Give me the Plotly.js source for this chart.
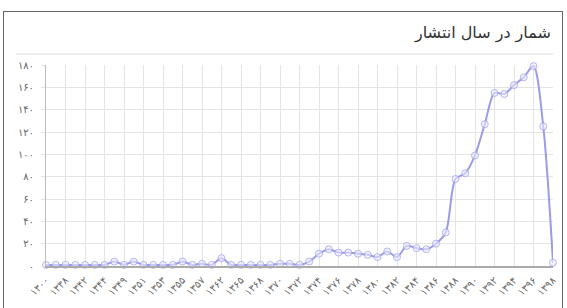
<!DOCTYPE html>
<html>
<head>
<meta charset="utf-8">
<script src="https://cdn.plot.ly/plotly-3.0.1.min.js"></script>
<style>
  html, body { margin: 0; padding: 0; background: #fff; }
  #wrap { position: relative; width: 567px; height: 308px; overflow: hidden; }
  #frame { position: absolute; left: 3px; top: 11px; width: 560px; height: 320px; border: 1px solid #666; box-sizing: border-box; }
  #chart { position: absolute; left: 0; top: 0; width: 567px; height: 308px; }
</style>
</head>
<body>
<div id="wrap">
  <div id="frame"></div>
  <div id="chart"></div>
</div>
<script>
// Years (Persian calendar) – one category per year in the data
const categories = [
  '۱۳۰۰','۱۳۳۵','۱۳۳۸','۱۳۴۰','۱۳۴۲','۱۳۴۳','۱۳۴۴','۱۳۴۷','۱۳۴۹','۱۳۵۰',
  '۱۳۵۱','۱۳۵۲','۱۳۵۳','۱۳۵۴','۱۳۵۵','۱۳۵۶','۱۳۵۷','۱۳۶۰','۱۳۶۲','۱۳۶۴',
  '۱۳۶۵','۱۳۶۶','۱۳۶۸','۱۳۶۹','۱۳۷۰','۱۳۷۱','۱۳۷۲','۱۳۷۳','۱۳۷۴','۱۳۷۵',
  '۱۳۷۶','۱۳۷۷','۱۳۷۸','۱۳۷۹','۱۳۸۰','۱۳۸۱','۱۳۸۲','۱۳۸۳','۱۳۸۴','۱۳۸۵',
  '۱۳۸۶','۱۳۸۷','۱۳۸۸','۱۳۸۹','۱۳۹۰','۱۳۹۱','۱۳۹۲','۱۳۹۳','۱۳۹۴','۱۳۹۵',
  '۱۳۹۶','۱۳۹۷','۱۳۹۸'
];
const counts = [
  1,1,1,1,1,1,1,4,1,4,
  1,1,1,1,4,1,2,1,7,1,
  1,1,1,1,2,2,1,4,11,15,
  12,12,11,10,8,13,8,18,16,15,
  20,30,78,83,99,127,155,154,162,169,
  179,125,3
];
const yTickVals = [0,20,40,60,80,100,120,140,160,180];
const yTickText = ['۰','۲۰','۴۰','۶۰','۸۰','۱۰۰','۱۲۰','۱۴۰','۱۶۰','۱۸۰'];
const titleText = 'شمار در سال انتشار';

const xTickVals = categories.filter((c, i) => i % 2 === 0);

const lineColor = 'rgb(155,155,235)';

const trace = {
  type: 'scatter',
  mode: 'lines+markers',
  x: categories,
  y: counts,
  line: { color: lineColor, width: 2, shape: 'spline', smoothing: 0.8 },
  marker: { symbol: 'circle', size: 7, color: 'rgba(235,235,252,0.6)', line: { color: 'rgba(155,155,235,0.7)', width: 1 } },
  cliponaxis: false,
  hoverinfo: 'skip'
};

const layout = {
  width: 567, height: 308,
  margin: { l: 46, r: 14, t: 65, b: 42 },
  paper_bgcolor: 'rgba(0,0,0,0)',
  plot_bgcolor: 'rgba(0,0,0,0)',
  showlegend: false,
  font: { family: 'DejaVu Sans, sans-serif', color: '#666', size: 10 },
  xaxis: {
    type: 'category',
    range: [0, categories.length - 1],
    tickmode: 'array',
    tickvals: xTickVals,
    ticktext: xTickVals,
    tickangle: -45,
    tickfont: { size: 10, color: '#666' },
    showgrid: true, gridcolor: '#e4e4e4', gridwidth: 1,
    showline: true, linecolor: '#aaa', linewidth: 1.5,
    zeroline: false,
    ticks: 'outside', ticklen: 3, tickcolor: 'rgba(0,0,0,0)'
  },
  yaxis: {
    range: [0, 180],
    tickmode: 'array',
    tickvals: yTickVals,
    ticktext: yTickText,
    tickfont: { size: 10, color: '#666' },
    showgrid: true, gridcolor: '#e4e4e4', gridwidth: 1,
    showline: true, linecolor: '#bbb', linewidth: 1,
    zeroline: false,
    ticks: 'outside', ticklen: 4, tickcolor: '#e4e4e4',
    ticklabelstandoff: 5
  },
  shapes: [
    { type: 'line', xref: 'paper', yref: 'paper', x0: -0.06, x1: 1, y0: 1.055, y1: 1.055, line: { color: '#eeeeee', width: 2 } }
  ],
  annotations: [
    { xref: 'paper', yref: 'paper', x: 1, y: 1.16, xanchor: 'right', yanchor: 'middle', text: titleText, showarrow: false,
      font: { family: 'DejaVu Sans, sans-serif', size: 16, color: '#333' } }
  ]
};

Plotly.newPlot('chart', [trace], layout, { staticPlot: true, displayModeBar: false });
</script>
</body>
</html>
